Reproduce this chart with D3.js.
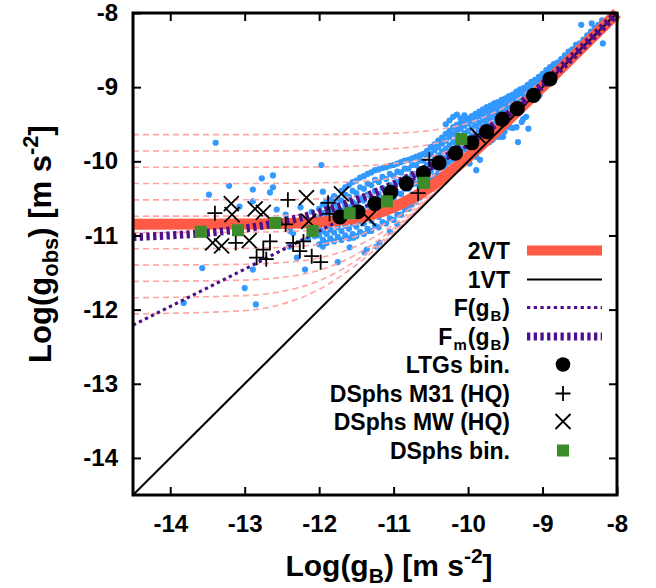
<!DOCTYPE html>
<html><head><meta charset="utf-8">
<script src="https://cdn.jsdelivr.net/npm/d3@7"></script>
<style>body{margin:0;background:#fff}svg{display:block}text{font-family:"Liberation Sans",Arial,sans-serif;font-weight:bold}</style>
</head><body><svg id="c" width="656" height="588"></svg>
<script>
// ---------- data ----------
const xTicks = [-14,-13,-12,-11,-10,-9,-8];
const yTicks = [-14,-13,-12,-11,-10,-9,-8];

// 1VT: identity
const vt1X = [-14.5,-8];
const vt1Y = [-14.5,-8];

// 2VT curve
const vt2X = [-14.5,-13,-12.5,-12,-11.5,-11.25,-11,-10.75,-10.5,-10.25,-10,-9.75,-9.5,-9,-8.5,-8];
const vt2Y = [-10.85,-10.847,-10.84,-10.82,-10.762,-10.705,-10.617,-10.496,-10.34,-10.153,-9.943,-9.717,-9.481,-8.994,-8.498,-8.0];

// F(gB) and Fm(gB)
const modelX = [-14.5,-14,-13.5,-13,-12.5,-12,-11.5,-11,-10.5,-10,-9.5,-9,-8.5,-8];
const fY  = [-12.209,-11.958,-11.707,-11.454,-11.199,-10.941,-10.676,-10.399,-10.104,-9.777,-9.405,-8.975,-8.497,-8.0];
const fmY = [-11.021,-10.999,-10.964,-10.906,-10.817,-10.691,-10.523,-10.312,-10.058,-9.755,-9.395,-8.971,-8.496,-8.0];

// pink dashed individual curves
const pinkX = [-14.5,-13,-12.5,-12,-11.5,-11,-10.5,-10,-9.5,-9,-8.5,-8];
const pink01 = [-9.64,-9.64,-9.638,-9.638,-9.634,-9.621,-9.584,-9.482,-9.263,-8.910,-8.47,-7.99];
const pink02 = [-9.86,-9.86,-9.859,-9.857,-9.850,-9.830,-9.770,-9.623,-9.343,-8.944,-8.481,-7.994];
const pink03 = [-10.08,-10.08,-10.078,-10.075,-10.064,-10.031,-9.941,-9.737,-9.399,-8.965,-8.489,-7.996];
const pink04 = [-10.30,-10.299,-10.297,-10.291,-10.274,-10.221,-10.088,-9.824,-9.436,-8.979,-8.493,-7.998];
const pink05 = [-10.52,-10.519,-10.516,-10.506,-10.477,-10.396,-10.209,-9.885,-9.46,-8.987,-8.496,-7.999];
const pink06 = [-10.74,-10.738,-10.733,-10.717,-10.670,-10.547,-10.302,-9.928,-9.476,-8.992,-8.497,-8.0];
const pink07 = [-10.96,-10.956,-10.948,-10.922,-10.850,-10.678,-10.370,-9.955,-9.485,-8.995,-8.498,-8.0];
const pink08 = [-11.18,-11.174,-11.160,-11.119,-11.010,-10.780,-10.418,-9.972,-9.491,-8.997,-8.499,-8.0];
const pink09 = [-11.40,-11.389,-11.367,-11.303,-11.146,-10.855,-10.449,-9.983,-9.495,-8.998,-8.5,-8.0];
const pink10 = [-11.62,-11.602,-11.566,-11.469,-11.255,-10.907,-10.473,-9.990,-9.497,-8.999,-8.5,-8.0];
const pink11 = [-11.84,-11.811,-11.754,-11.611,-11.335,-10.940,-10.480,-9.994,-9.498,-8.999,-8.5,-8.0];
const pink12 = [-12.058,-12.013,-11.927,-11.727,-11.396,-10.963,-10.488,-9.996,-9.499,-9.0,-8.5,-8.0];
const pinkCurves = [pink01,pink02,pink03,pink04,pink05,pink06,pink07,pink08,pink09,pink10,pink11,pink12];

// LTGs binned
const ltgX = [-11.72,-11.48,-11.25,-11.04,-10.83,-10.60,-10.39,-10.17,-9.95,-9.75,-9.54,-9.34,-9.12,-8.90];
const ltgY = [-10.75,-10.68,-10.57,-10.42,-10.30,-10.16,-10.02,-9.89,-9.75,-9.60,-9.43,-9.29,-9.11,-8.89];

// DSphs binned
const dbinX = [-13.59,-13.09,-12.59,-12.09,-11.59,-11.09,-10.59,-10.09];
const dbinY = [-10.95,-10.93,-10.83,-10.94,-10.70,-10.54,-10.29,-9.70];

// DSphs M31 (HQ)
const m31X = [-13.40,-12.42,-12.45,-13.12,-12.66,-12.35,-12.21,-12.84,-12.71,-12.75,-12.26,-12.10,-11.98,-11.86,-11.88,-10.67,-10.52];
const m31Y = [-10.70,-10.52,-10.85,-11.10,-11.08,-11.10,-11.08,-11.30,-11.32,-11.19,-11.21,-11.28,-11.36,-10.71,-10.56,-10.43,-9.98];

// DSphs MW (HQ)
const mwX = [-13.43,-13.31,-13.18,-13.17,-12.94,-12.86,-12.75,-12.17,-12.14,-11.70,-11.34,-9.87];
const mwY = [-11.10,-11.14,-10.57,-10.72,-11.07,-10.64,-10.69,-10.49,-10.81,-10.44,-10.77,-9.65];

// individual rotation-curve points (columns: gB, list of gobs)
const blueCols = [
[-12.00,[-11.12,-11.00,-10.88,-10.76,-10.64]],
[-11.95,[-11.06,-10.94,-10.82,-10.70,-10.58]],
[-11.90,[-11.10,-10.98,-10.86,-10.73,-10.60,-10.53]],
[-11.85,[-11.04,-10.92,-10.79,-10.66,-10.52]],
[-11.80,[-11.08,-10.96,-10.83,-10.70,-10.57,-10.47]],
[-11.75,[-11.02,-10.89,-10.76,-10.63,-10.50]],
[-11.70,[-11.06,-10.94,-10.80,-10.66,-10.53,-10.40]],
[-11.65,[-11.00,-10.87,-10.73,-10.59,-10.45,-10.35]],
[-11.60,[-11.04,-10.91,-10.77,-10.62,-10.48,-10.32]],
[-11.55,[-10.98,-10.84,-10.70,-10.55,-10.40,-10.28]],
[-11.50,[-11.01,-10.88,-10.73,-10.58,-10.43,-10.26]],
[-11.45,[-10.95,-10.81,-10.66,-10.50,-10.35,-10.22]],
[-11.40,[-10.98,-10.84,-10.69,-10.53,-10.37,-10.20]],
[-11.35,[-10.91,-10.76,-10.61,-10.45,-10.30,-10.17]],
[-11.30,[-10.94,-10.80,-10.64,-10.48,-10.32,-10.15]],
[-11.25,[-10.87,-10.72,-10.56,-10.40,-10.25,-10.12]],
[-11.20,[-10.89,-10.75,-10.60,-10.44,-10.28,-10.11]],
[-11.15,[-10.82,-10.67,-10.52,-10.36,-10.21,-10.09]],
[-11.10,[-10.84,-10.70,-10.55,-10.39,-10.24,-10.08]],
[-11.05,[-10.77,-10.62,-10.47,-10.32,-10.17,-10.06]],
[-11.00,[-10.79,-10.65,-10.50,-10.35,-10.20,-10.05]],
[-10.95,[-10.72,-10.58,-10.43,-10.28,-10.14,-10.03]],
[-10.90,[-10.72,-10.58,-10.44,-10.29,-10.15,-10.01]],
[-10.85,[-10.65,-10.51,-10.37,-10.23,-10.10,-9.99]],
[-10.80,[-10.64,-10.51,-10.37,-10.23,-10.10,-9.98]],
[-10.75,[-10.58,-10.45,-10.31,-10.18,-10.05,-9.96]],
[-10.70,[-10.55,-10.43,-10.30,-10.17,-10.05,-9.94]],
[-10.65,[-10.49,-10.37,-10.24,-10.11,-9.99,-9.92]],
[-10.60,[-10.46,-10.35,-10.22,-10.10,-9.99,-9.90]],
[-10.55,[-10.40,-10.29,-10.17,-10.05,-9.93,-9.86]],
[-10.50,[-10.36,-10.25,-10.13,-10.01,-9.90,-9.81]],
[-10.45,[-10.31,-10.20,-10.08,-9.96,-9.85,-9.77]],
[-10.40,[-10.27,-10.16,-10.04,-9.92,-9.81,-9.72]],
[-10.35,[-10.22,-10.11,-9.99,-9.87,-9.76,-9.68]],
[-10.30,[-10.17,-10.06,-9.95,-9.83,-9.72,-9.63]],
[-10.25,[-10.12,-10.01,-9.90,-9.78,-9.67,-9.59]],
[-10.20,[-10.08,-9.97,-9.86,-9.74,-9.63,-9.54]],
[-10.15,[-10.03,-9.92,-9.81,-9.70,-9.59,-9.51]],
[-10.10,[-9.98,-9.88,-9.77,-9.66,-9.56,-9.48]],
[-10.05,[-9.94,-9.84,-9.73,-9.62,-9.52,-9.45]],
[-10.00,[-9.89,-9.79,-9.69,-9.59,-9.49,-9.42]],
[-9.95,[-9.85,-9.75,-9.65,-9.55,-9.46,-9.39]],
[-9.90,[-9.80,-9.71,-9.61,-9.52,-9.43,-9.36]],
[-9.85,[-9.76,-9.66,-9.57,-9.48,-9.39,-9.33]],
[-9.80,[-9.71,-9.62,-9.53,-9.44,-9.36,-9.30]],
[-9.75,[-9.67,-9.58,-9.49,-9.41,-9.33,-9.27]],
[-9.70,[-9.62,-9.54,-9.45,-9.37,-9.30,-9.25]],
[-9.65,[-9.58,-9.50,-9.42,-9.34,-9.27,-9.22]],
[-9.60,[-9.53,-9.46,-9.38,-9.31,-9.24,-9.20]],
[-9.55,[-9.49,-9.42,-9.35,-9.28,-9.21,-9.17]],
[-9.50,[-9.45,-9.38,-9.31,-9.24,-9.18,-9.15]],
[-9.45,[-9.41,-9.34,-9.27,-9.21,-9.15,-9.12]],
[-9.40,[-9.36,-9.30,-9.23,-9.17,-9.12,-9.10]],
[-9.35,[-9.32,-9.26,-9.19,-9.13,-9.08,-9.06]],
[-9.30,[-9.27,-9.21,-9.15,-9.09,-9.05,-9.03]],
[-9.25,[-9.23,-9.17,-9.11,-9.06,-9.01]],
[-9.20,[-9.18,-9.13,-9.07,-9.02,-8.97]],
[-9.15,[-9.14,-9.08,-9.03,-8.98,-8.93]],
[-9.10,[-9.09,-9.04,-8.99,-8.94,-8.90]],
[-9.05,[-9.05,-9.00,-8.95,-8.90,-8.86]],
[-9.00,[-9.00,-8.95,-8.90,-8.86,-8.82]],
[-8.95,[-8.95,-8.90,-8.85,-8.81,-8.77]],
[-8.90,[-8.90,-8.85,-8.80,-8.76,-8.73]],
[-8.85,[-8.85,-8.80,-8.76,-8.72,-8.69]],
[-8.80,[-8.80,-8.75,-8.71,-8.67]],
[-8.75,[-8.75,-8.71,-8.66,-8.62]],
[-8.70,[-8.70,-8.65,-8.61,-8.57]],
[-8.65,[-8.65,-8.61,-8.56,-8.52]],
[-8.60,[-8.60,-8.56,-8.52,-8.49]],
[-8.55,[-8.55,-8.51,-8.47,-8.43]],
[-8.50,[-8.50,-8.45,-8.41]],
[-8.45,[-8.45,-8.40,-8.36]],
[-8.40,[-8.40,-8.35,-8.30]],
[-8.35,[-8.35,-8.30,-8.25]],
[-8.30,[-8.30,-8.25,-8.20]],
[-8.25,[-8.25,-8.20,-8.16]],
[-8.20,[-8.21,-8.14,-8.10]]
];
const blueExtra = [
[-13.39,-9.75],[-13.48,-10.45],[-13.21,-10.33],[-12.89,-10.38],[-12.77,-10.23],[-12.62,-10.19],
[-12.62,-10.35],[-12.66,-10.42],[-12.89,-10.54],[-13.07,-10.61],[-12.57,-10.65],[-11.97,-10.05],
[-11.95,-10.41],[-11.81,-10.52],[-13.57,-11.44],[-12.89,-11.46],[-12.19,-11.46],[-12.35,-10.97],
[-13.00,-11.71],[-12.85,-11.93],[-13.82,-11.91],[-12.30,-11.30],[-11.95,-11.15],[-11.54,-11.03],
[-11.39,-11.23],[-11.77,-10.83],[-11.34,-10.94],[-11.23,-11.15],[-12.06,-11.01],[-12.39,-10.94],
[-12.45,-10.72],[-12.20,-10.78],[-12.10,-10.68],[-12.25,-10.62],[-12.15,-11.05],[-12.40,-11.15],
[-11.75,-11.36],[-11.59,-11.16],[-11.36,-11.19],[-11.19,-11.10],[-11.05,-10.95],[-10.95,-10.85],
[-9.22,-9.40],[-9.26,-9.43],[-9.28,-9.47],[-9.35,-9.54],[-9.40,-9.55],[-9.44,-9.54],[-9.51,-9.60],
[-9.53,-9.67],[-9.57,-9.67],[-9.62,-9.67],[-9.67,-9.71],[-9.71,-9.74],[-9.75,-9.76],[-9.80,-9.78],
[-9.84,-9.74],[-9.87,-9.85],[-9.89,-9.94],[-9.94,-9.84],[-9.98,-10.03],[-10.02,-9.96],[-9.89,-10.12],
[-9.84,-9.98],[-9.33,-9.74],[-9.19,-9.56],[-9.15,-9.18],[-9.04,-9.11],[-8.19,-8.41],[-8.10,-8.09],
[-8.34,-8.14],[-8.48,-8.16],[-10.20,-9.40],[-10.15,-9.37],[-10.10,-9.42],[-10.25,-9.45],[-10.05,-9.38],
[-10.30,-9.50]
];

// legend
const legendLabels = ["2VT","1VT","F(gB)","Fm(gB)","LTGs bin.","DSphs M31 (HQ)","DSphs MW (HQ)","DSphs bin."];

// ---------- drawing ----------
const svg = d3.select("#c");
const L = 133, R = 617, T = 13, B = 495;
const x = d3.scaleLinear().domain([-14.5,-8]).range([L,R]);
const y = d3.scaleLinear().domain([-14.5,-8]).range([B,T]);

const blueColor = "#3399ff", redColor = "#ff5a45", pinkColor = "#ffa3a3",
      purple = "#4f0f8a", green = "#3c8c2c";

const line = (xs, ys, curve) => d3.line().x((d,i)=>x(xs[i])).y(d=>y(d)).curve(curve || d3.curveMonotoneX)(ys);

svg.append("defs").append("clipPath").attr("id","clip")
  .append("rect").attr("x",L).attr("y",T).attr("width",R-L).attr("height",B-T);

const plot = svg.append("g");

// blue points
const bluePts = [];
blueCols.forEach(([bx,ys]) => ys.forEach(v => bluePts.push([bx,v])));
blueExtra.forEach(p => bluePts.push(p));
plot.append("g").selectAll("circle").data(bluePts).join("circle")
  .attr("cx",d=>x(d[0])).attr("cy",d=>y(d[1])).attr("r",3.1).attr("fill",blueColor);

// pink dashed curves
plot.append("g").attr("clip-path","url(#clip)").selectAll("path").data(pinkCurves).join("path")
  .attr("d",d=>line(pinkX,d)).attr("fill","none").attr("stroke",pinkColor)
  .attr("stroke-width",1.6).attr("stroke-dasharray","6,4");

// 2VT
plot.append("path").attr("d",line(vt2X,vt2Y)).attr("fill","none")
  .attr("stroke",redColor).attr("stroke-width",11);

// 1VT
plot.append("path").attr("d",line(vt1X,vt1Y,d3.curveLinear)).attr("fill","none")
  .attr("stroke","#000").attr("stroke-width",2);

// F(gB)
plot.append("path").attr("clip-path","url(#clip)").attr("d",line(modelX,fY)).attr("fill","none")
  .attr("stroke",purple).attr("stroke-width",3.2).attr("stroke-dasharray","3.3,3.4");

// Fm(gB)
plot.append("path").attr("clip-path","url(#clip)").attr("d",line(modelX,fmY)).attr("fill","none")
  .attr("stroke",purple).attr("stroke-width",8).attr("stroke-dasharray","3.3,3.4");

// marker helpers
function plusPath(cx,cy,s){return `M${cx-s},${cy}H${cx+s}M${cx},${cy-s}V${cy+s}`;}
function crossPath(cx,cy,s){return `M${cx-s},${cy-s}L${cx+s},${cy+s}M${cx-s},${cy+s}L${cx+s},${cy-s}`;}

// M31 plus
plot.append("g").selectAll("path").data(m31X).join("path")
  .attr("d",(d,i)=>plusPath(x(d),y(m31Y[i]),7.5)).attr("stroke","#000").attr("stroke-width",1.8).attr("fill","none");
// MW cross
plot.append("g").selectAll("path").data(mwX).join("path")
  .attr("d",(d,i)=>crossPath(x(d),y(mwY[i]),7.5)).attr("stroke","#000").attr("stroke-width",1.8).attr("fill","none");

// LTG bins
plot.append("g").selectAll("circle").data(ltgX).join("circle")
  .attr("cx",d=>x(d)).attr("cy",(d,i)=>y(ltgY[i])).attr("r",7.6).attr("fill","#000");

// DSph bins
plot.append("g").selectAll("rect").data(dbinX).join("rect")
  .attr("x",d=>x(d)-6).attr("y",(d,i)=>y(dbinY[i])-6).attr("width",12).attr("height",12).attr("fill",green);

// axes
const fmt = d => String(d);
const styleAxis = g => { g.select(".domain").remove(); g.selectAll(".tick line").attr("stroke","#000").attr("stroke-width",2);
  g.selectAll("text").attr("fill","#000").style("font-size","24px").style("font-weight","bold").style("font-family","'Liberation Sans', Arial, sans-serif"); };
svg.append("g").attr("transform",`translate(0,${B})`)
  .call(d3.axisBottom(x).tickValues(xTicks).tickSizeInner(-8).tickSizeOuter(0).tickPadding(20).tickFormat(fmt)).call(styleAxis);
svg.append("g").attr("transform",`translate(0,${T})`)
  .call(d3.axisTop(x).tickValues(xTicks).tickSizeInner(-8).tickSizeOuter(0).tickFormat("")).call(styleAxis);
svg.append("g").attr("transform",`translate(${L},0)`)
  .call(d3.axisLeft(y).tickValues(yTicks).tickSizeInner(-8).tickSizeOuter(0).tickPadding(15).tickFormat(fmt)).call(styleAxis);
svg.append("g").attr("transform",`translate(${R},0)`)
  .call(d3.axisRight(y).tickValues(yTicks).tickSizeInner(-8).tickSizeOuter(0).tickFormat("")).call(styleAxis);

svg.append("rect").attr("x",L).attr("y",T).attr("width",R-L).attr("height",B-T)
  .attr("fill","none").attr("stroke","#000").attr("stroke-width",3);

// axis titles
const xt = svg.append("text").attr("x",389).attr("y",576).attr("text-anchor","middle").style("font-size","30px");
xt.append("tspan").text("Log(g");
xt.append("tspan").attr("dy",7).style("font-size","21px").text("B");
xt.append("tspan").attr("dy",-7).text(") [m s");
xt.append("tspan").attr("dy",-13).style("font-size","21px").text("-2");
xt.append("tspan").attr("dy",13).text("]");

const yt = svg.append("text").attr("transform",`translate(51,244) rotate(-90)`).attr("text-anchor","middle").style("font-size","31px");
yt.append("tspan").text("Log(g");
yt.append("tspan").attr("dy",7).style("font-size","22px").text("obs");
yt.append("tspan").attr("dy",-7).text(") [m s");
yt.append("tspan").attr("dy",-13).style("font-size","22px").text("-2");
yt.append("tspan").attr("dy",13).text("]");

// legend
const lg = svg.append("g");
const baseY = [259,288,316,345,373,402,430,459];
const tx = 510, sx1 = 527, sx2 = 602, mx = 563;
legendLabels.forEach((lab,i)=>{
  const t = lg.append("text").attr("x",tx).attr("y",baseY[i]).attr("text-anchor","end").style("font-size","23px");
  if (lab === "F(gB)") {
    t.append("tspan").text("F(g"); t.append("tspan").attr("dy",5).attr("dx",1).style("font-size","15px").text("B");
    t.append("tspan").attr("dy",-5).attr("dx",1).text(")");
  } else if (lab === "Fm(gB)") {
    t.append("tspan").text("F"); t.append("tspan").attr("dy",5).attr("dx",1).style("font-size","15px").text("m");
    t.append("tspan").attr("dy",-5).attr("dx",1).text("(g"); t.append("tspan").attr("dy",5).attr("dx",1).style("font-size","15px").text("B");
    t.append("tspan").attr("dy",-5).attr("dx",1).text(")");
  } else t.text(lab);
});
const cy = i => baseY[i]-8.5;
lg.append("line").attr("x1",sx1).attr("x2",sx2).attr("y1",cy(0)).attr("y2",cy(0)).attr("stroke",redColor).attr("stroke-width",10);
lg.append("line").attr("x1",sx1).attr("x2",sx2).attr("y1",cy(1)).attr("y2",cy(1)).attr("stroke","#000").attr("stroke-width",2);
lg.append("line").attr("x1",sx1).attr("x2",sx2).attr("y1",cy(2)).attr("y2",cy(2)).attr("stroke",purple).attr("stroke-width",3.2).attr("stroke-dasharray","3.3,3.4");
lg.append("line").attr("x1",sx1).attr("x2",sx2).attr("y1",cy(3)).attr("y2",cy(3)).attr("stroke",purple).attr("stroke-width",8).attr("stroke-dasharray","3.3,3.4");
lg.append("circle").attr("cx",mx).attr("cy",cy(4)).attr("r",7.3).attr("fill","#000");
lg.append("path").attr("d",plusPath(mx,cy(5),7.5)).attr("stroke","#000").attr("stroke-width",1.8);
lg.append("path").attr("d",crossPath(mx,cy(6),7.5)).attr("stroke","#000").attr("stroke-width",1.8);
lg.append("rect").attr("x",mx-6).attr("y",cy(7)-6).attr("width",12).attr("height",12).attr("fill",green);
</script></body></html>
